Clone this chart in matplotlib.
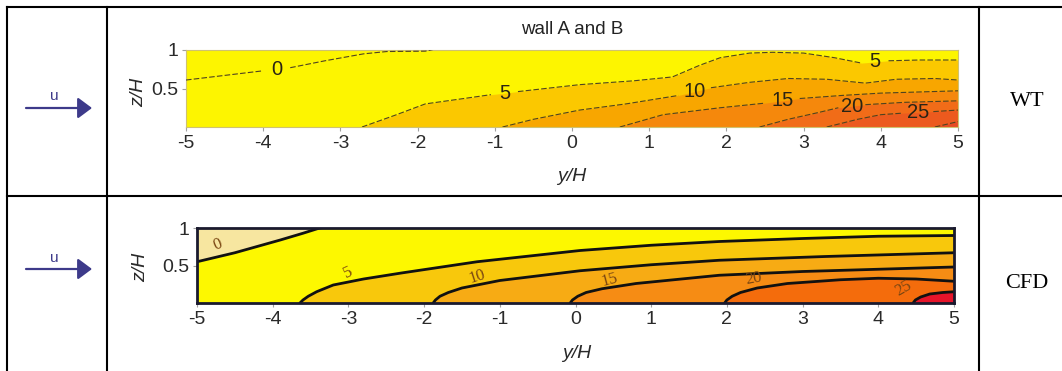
import numpy as np
import matplotlib
matplotlib.use("Agg")
import matplotlib.pyplot as plt
from matplotlib.lines import Line2D
from matplotlib.patches import FancyArrowPatch

# ---------------- data ----------------
y_ticks = [-5, -4, -3, -2, -1, 0, 1, 2, 3, 4, 5]
z_ticks = [0.5, 1]
z_tick_labels = ["0.5", "1"]

# Wind tunnel (WT) contour lines: y/H and z/H of each iso-line
wt_levels = [0, 5, 10, 15, 20, 25, 30]
wt_l0_y = [-5.0, -4.0, -3.65, -3.2, -2.7, -2.4, -1.9, -1.6]
wt_l0_z = [0.61, 0.73, 0.77, 0.86, 0.95, 0.98, 0.985, 1.05]
wt_l5_y = [-2.72, -2.3, -1.9, -1.4, -1.05, -0.7, 0.1, 0.8, 1.3, 1.65, 1.92, 2.3, 2.6, 3.0, 3.4, 3.75, 4.1, 4.5, 5.0]
wt_l5_z = [0.0, 0.15, 0.30, 0.37, 0.42, 0.46, 0.55, 0.60, 0.65, 0.80, 0.90, 0.96, 0.97, 0.96, 0.90, 0.83, 0.86, 0.87, 0.87]
wt_l10_y = [-0.9, -0.5, 0.1, 0.7, 1.38, 1.8, 2.3, 2.8, 3.3, 3.8, 4.2, 4.7, 5.0]
wt_l10_z = [0.0, 0.10, 0.22, 0.30, 0.41, 0.51, 0.58, 0.63, 0.62, 0.57, 0.62, 0.63, 0.61]
wt_l15_y = [0.62, 1.18, 1.92, 2.5, 2.95, 3.5, 4.0, 5.0]
wt_l15_z = [0.0, 0.16, 0.25, 0.31, 0.37, 0.41, 0.44, 0.47]
wt_l20_y = [2.43, 2.8, 3.2, 3.45, 3.8, 4.3, 5.0]
wt_l20_z = [0.0, 0.10, 0.19, 0.25, 0.29, 0.32, 0.34]
wt_l25_y = [3.3, 3.7, 4.0, 4.28, 4.68, 5.0]
wt_l25_z = [0.0, 0.10, 0.16, 0.18, 0.20, 0.22]
wt_l30_y = [4.7, 5.0]
wt_l30_z = [0.0, 0.07]
# segments of each WT line that are left open for the inline label
wt_label_gaps = [[1], [4, 15], [4], [3], [3], [3], []]

# CFD contour lines
cfd_levels = [0, 5, 10, 15, 20, 25]
cfd_l0_y = [-5.0, -4.5, -3.9, -3.6, -3.38, -3.0]
cfd_l0_z = [0.55, 0.67, 0.84, 0.93, 1.0, 1.05]
cfd_l5_y = [-3.64, -3.6, -3.53, -3.42, -3.2, -2.8, -2.3, -1.3, 0.06, 1.0, 1.9, 3.0, 4.0, 5.0]
cfd_l5_z = [0.0, 0.04, 0.09, 0.15, 0.24, 0.32, 0.40, 0.55, 0.70, 0.77, 0.82, 0.86, 0.89, 0.90]
cfd_l10_y = [-1.88, -1.85, -1.79, -1.68, -1.5, -1.0, 0.06, 1.0, 1.9, 3.3, 5.0]
cfd_l10_z = [0.0, 0.04, 0.09, 0.14, 0.20, 0.30, 0.43, 0.51, 0.57, 0.62, 0.67]
cfd_l15_y = [-0.07, -0.04, 0.03, 0.14, 0.35, 0.8, 1.9, 3.0, 4.0, 5.0]
cfd_l15_z = [0.0, 0.04, 0.09, 0.14, 0.19, 0.26, 0.37, 0.42, 0.45, 0.48]
cfd_l20_y = [1.97, 2.0, 2.07, 2.18, 2.4, 2.8, 3.5, 4.0, 4.5, 5.0]
cfd_l20_z = [0.0, 0.04, 0.09, 0.14, 0.20, 0.26, 0.31, 0.33, 0.32, 0.29]
cfd_l25_y = [4.46, 4.49, 4.56, 4.68, 4.85, 5.0]
cfd_l25_z = [0.0, 0.04, 0.08, 0.12, 0.14, 0.15]

row_names = ["WT", "CFD"]
title_text = "wall A and B"

# ---------------- styles / layout ----------------
wt_base = "#fdf500"
wt_colors = ["#fdf500", "#fbc800", "#f8a600", "#f5880c", "#f16c18", "#ec5a1e", "#e64a22"]
cfd_below0 = "#f7e6a0"          # colour of the region above the 0 line (values < 0)
cfd_colors = ["#fdf800", "#f8c80c", "#f7ab14", "#f68c14", "#f46c0c", "#e6142a"]
cfd_label_pos = [(-4.72, 0.78), (-3.0, 0.40), (-1.3, 0.35), (0.45, 0.31), (2.35, 0.32), (4.33, 0.19)]
cfd_label_rot = [22, 25, 18, 15, 10, 30]

W, H = 1062, 371
def fx(px):
    return px / W
def fy(py):
    return 1 - py / H

fig = plt.figure(figsize=(W / 100, H / 100), dpi=100)
fig.patch.set_facecolor("white")
SANS = "Liberation Sans"
SERIF = "Liberation Serif"
TXT = "#2a2a2a"

ax_wt = fig.add_axes([fx(186), fy(127), fx(958) - fx(186), fy(50) - fy(127)])
ax_cfd = fig.add_axes([fx(197), fy(303), fx(954) - fx(197), fy(228) - fy(303)])


def setup(ax, xlab_xy, ylab_xy):
    ax.set_xlim(-5, 5)
    ax.set_ylim(0, 1)
    ax.set_xticks(y_ticks)
    ax.set_xticklabels([str(t) for t in y_ticks])
    ax.set_yticks(z_ticks)
    ax.set_yticklabels(z_tick_labels)
    ax.tick_params(direction="out", length=3, width=0.8, color="#a0a0a0",
                   labelsize=14, labelcolor=TXT, pad=2.5)
    for lab in ax.get_xticklabels() + ax.get_yticklabels():
        lab.set_fontfamily(SANS)
    ax.set_xlabel("y/H", fontsize=14, style="italic", family=SANS, color=TXT)
    ax.set_ylabel("z/H", fontsize=14, style="italic", family=SANS, color=TXT)
    ax.xaxis.set_label_coords(*xlab_xy)
    ax.yaxis.set_label_coords(*ylab_xy)
    ax.xaxis.label.set_va("center")
    ax.yaxis.label.set_va("center")
    ax.yaxis.label.set_ha("center")


setup(ax_wt, (0.5, -0.649), (-0.062, 0.455))
setup(ax_cfd, (0.502, -0.68), (-0.074, 0.48))

# ---------------- WT panel ----------------
wt_lines = [(wt_l0_y, wt_l0_z), (wt_l5_y, wt_l5_z), (wt_l10_y, wt_l10_z), (wt_l15_y, wt_l15_z),
            (wt_l20_y, wt_l20_z), (wt_l25_y, wt_l25_z), (wt_l30_y, wt_l30_z)]
ax_wt.set_facecolor(wt_base)
for (cy, cz), col in zip(wt_lines, wt_colors):
    ax_wt.fill_between(cy, 0, cz, color=col, lw=0, zorder=1)
for (cy, cz), lev, gaps in zip(wt_lines, wt_levels, wt_label_gaps):
    starts = [0] + [g + 1 for g in gaps]
    ends = [g + 1 for g in gaps] + [len(cy)]
    for s, e in zip(starts, ends):
        ax_wt.plot(cy[s:e], cz[s:e], color="#4f4220", lw=0.8, ls=(0, (5, 2)), zorder=3)
    for g in gaps:
        ax_wt.text((cy[g] + cy[g + 1]) / 2, (cz[g] + cz[g + 1]) / 2, str(lev),
                   ha="center", va="center", fontsize=14.5, family=SANS, color="#2a2414", zorder=4)
for sp in ax_wt.spines.values():
    sp.set_color("#cfc270")
    sp.set_linewidth(0.8)
ax_wt.set_title(title_text, fontsize=13.5, family=SANS, color="#222222", y=1.26, va="center", pad=0)

# ---------------- CFD panel ----------------
cfd_lines = [(cfd_l0_y, cfd_l0_z), (cfd_l5_y, cfd_l5_z), (cfd_l10_y, cfd_l10_z),
             (cfd_l15_y, cfd_l15_z), (cfd_l20_y, cfd_l20_z), (cfd_l25_y, cfd_l25_z)]
ax_cfd.set_facecolor(cfd_colors[0])
# region above the 0 line (negative values)
ax_cfd.fill_between(cfd_l0_y, cfd_l0_z, 1.0, color=cfd_below0, lw=0, zorder=1)
for (cy, cz), col in zip(cfd_lines[1:], cfd_colors[1:]):
    ax_cfd.fill_between(cy, 0, cz, color=col, lw=0, zorder=1)
for (cy, cz) in cfd_lines:
    ax_cfd.plot(cy, cz, color="#111111", lw=2.0, zorder=3, solid_capstyle="round",
                solid_joinstyle="round")
for lev, (px, pz), rot in zip(cfd_levels, cfd_label_pos, cfd_label_rot):
    ax_cfd.text(px, pz, str(lev), ha="center", va="center", fontsize=12, family=SERIF,
                color="#7a4612", rotation=rot, zorder=4)
for sp in ax_cfd.spines.values():
    sp.set_color("#1a1a2e")
    sp.set_linewidth(2.0)
    sp.set_zorder(5)

# ---------------- table frame ----------------
lw_tab = 1.5
frame = [((7, 1062), (7, 7)), ((7, 1062), (196, 196)),
         ((7, 7), (7, 371)), ((107, 107), (7, 371)), ((979, 979), (7, 371))]
for (x0, x1), (y0, y1) in frame:
    fig.add_artist(Line2D([fx(x0), fx(x1)], [fy(y0), fy(y1)], transform=fig.transFigure,
                          color="black", lw=lw_tab))

# flow arrows
for ay, uy in [(108, 96), (269, 258)]:
    arr = FancyArrowPatch((fx(26), fy(ay)), (fx(92), fy(ay)), transform=fig.transFigure,
                          arrowstyle="-|>,head_length=0.43,head_width=0.32", mutation_scale=20,
                          color="#3d3a8a", lw=1.6, shrinkA=0, shrinkB=0)
    fig.add_artist(arr)
    fig.text(fx(54), fy(uy), "u", ha="center", va="center", fontsize=11, family=SANS, color="#3d3a8a")

# row labels
for name, ry in zip(row_names, [102, 284]):
    fig.text(fx(1027), fy(ry), name, ha="center", va="center", fontsize=16, family=SERIF, color="black")

fig.savefig("out.png", dpi=100)
